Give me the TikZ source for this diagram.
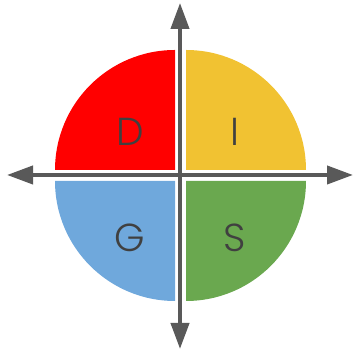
\documentclass[tikz,border=0pt]{standalone}
\usepackage{fontspec}
\setmainfont{Poppins}[UprightFont=* Light]
\usetikzlibrary{arrows.meta}
\definecolor{qred}{HTML}{FF0000}
\definecolor{qyellow}{HTML}{F1C232}
\definecolor{qblue}{HTML}{6FA8DC}
\definecolor{qgreen}{HTML}{6AA84F}
\definecolor{axisgray}{HTML}{595959}
\definecolor{lettergray}{HTML}{404040}
\begin{document}
\begin{tikzpicture}[x=1pt, y=1pt, >={Triangle[length=26pt,width=18pt]},
	letter/.style={text=lettergray, font=\fontsize{39}{39}\selectfont, inner sep=0pt},
	axis/.style={draw=axisgray, line width=4pt, <->}]
			\useasboundingbox (0,0) rectangle (354,352);
			\fill[qred] (175,182) -- (55,182) arc (180:90:120) -- cycle;
			\fill[qyellow] (186,182) -- (186,302) arc (90:0:120) -- cycle;
			\fill[qblue] (175,171) -- (175,51) arc (270:180:120) -- cycle;
			\fill[qgreen] (186,171) -- (306,171) arc (0:-90:120) -- cycle;
			\coordinate (left) at (7,177);
			\coordinate (right) at (353,177);
			\coordinate (top) at (180,349);
			\coordinate (bottom) at (180,3);
			\draw[axis] (left) -- (right);
			\draw[axis] (bottom) -- (top);
			\node[letter] (d) at (130,220) {D};
			\node[letter] (i) at (235,220) {I};
			\node[letter] (g) at (130,114) {G};
			\node[letter] (s) at (235,114) {S};
		\end{tikzpicture}
\end{document}
